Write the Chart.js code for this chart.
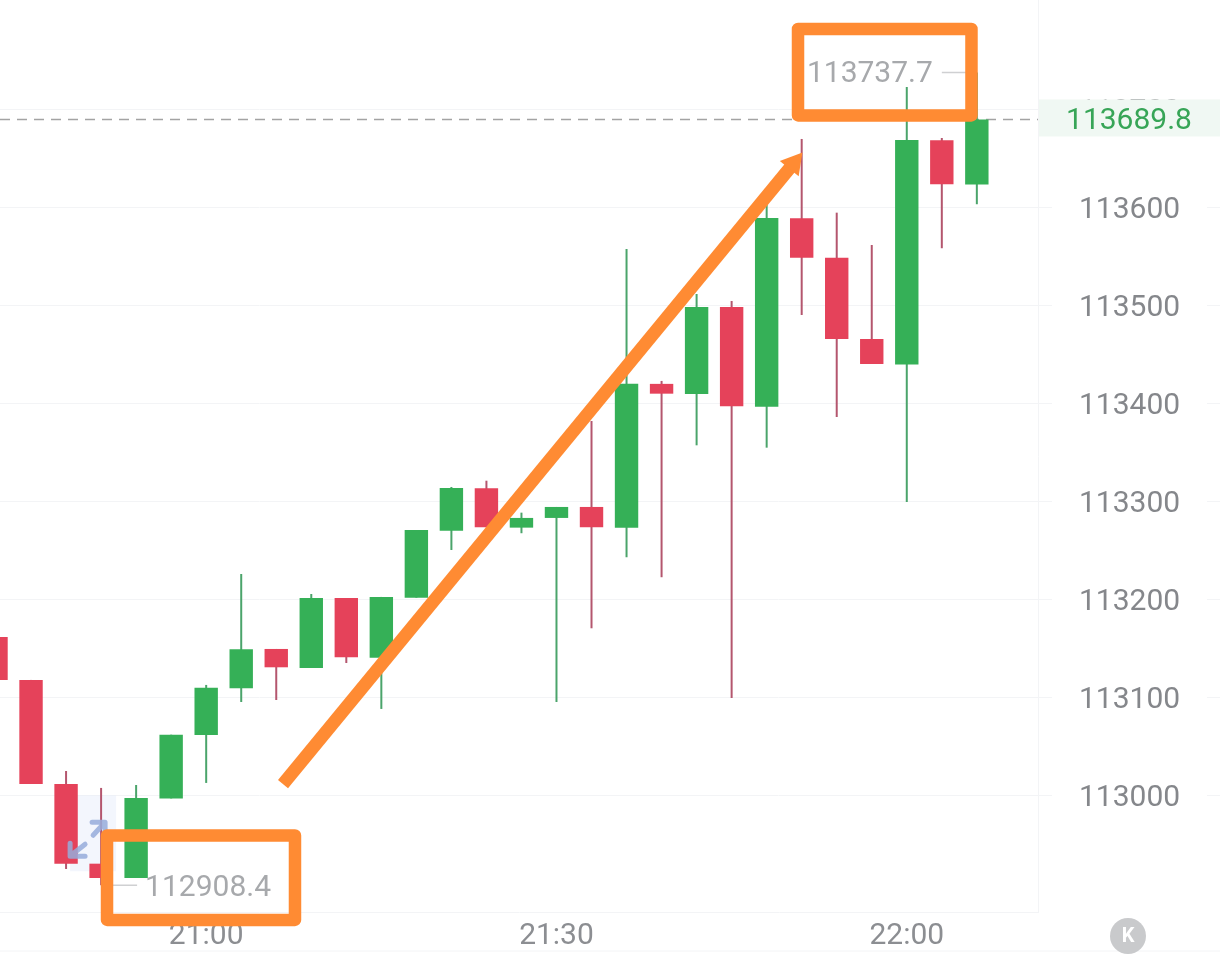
<!DOCTYPE html>
<html>
<head>
<meta charset="utf-8">
<style>
  html, body { margin: 0; padding: 0; background: #fff; }
  #wrap { width: 1220px; height: 956px; }
</style>
<script src="https://cdn.jsdelivr.net/npm/chart.js@4/dist/chart.umd.min.js"></script>
</head>
<body>
<div id="wrap"><canvas id="chart"></canvas></div>
<script>
// 3 minute candles
const categories = ['20:42','20:45','20:48','20:51','20:54','20:57','21:00','21:03','21:06','21:09',
  '21:12','21:15','21:18','21:21','21:24','21:27','21:30','21:33','21:36','21:39',
  '21:42','21:45','21:48','21:51','21:54','21:57','22:00','22:03','22:06'];
const opens = [113161.7,113117.9,113011.7,112930.4,112915.8,112997.0,113061.7,113109.4,113149.5,113130.1,
  113201.5,113140.6,113201.8,113270.2,113313.5,113273.3,113283.2,113294.4,113273.3,113420.0,
  113409.7,113498.5,113396.7,113589.0,113548.8,113465.8,113439.8,113668.6,113623.5];
const highs = [113161.7,113117.9,113025.0,113007.7,113010.7,113062.0,113112.8,113226.0,113149.5,113205.6,
  113201.5,113202.6,113270.9,113314.8,113321.2,113288.6,113294.4,113382.1,113557.7,113423.0,
  113511.7,113504.6,113602.6,113669.9,113594.7,113561.7,113723.0,113670.9,113737.7];
const lows = [113117.9,113011.7,112925.0,112908.4,112915.8,112997.0,113012.8,113095.4,113097.4,113130.1,
  113135.2,113088.3,113201.8,113250.5,113273.7,113267.6,113095.4,113170.6,113243.1,113222.7,
  113357.3,113099.5,113354.9,113490.3,113386.2,113440.3,113299.5,113558.4,113603.3];
const closes = [113117.9,113011.7,112930.4,112915.8,112997.4,113062.0,113110.0,113149.2,113130.8,113201.5,
  113141.0,113202.6,113270.9,113313.8,113273.7,113283.2,113294.4,113273.7,113420.2,113410.0,
  113498.5,113397.1,113589.3,113548.8,113465.8,113440.3,113668.9,113623.7,113689.8];

const priceTicks = [113000,113100,113200,113300,113400,113500,113600,113700];
const timeTicks = [6,16,26];
const lastPrice = 113689.8;
const lowPrice = 112908.4, lowIndex = 3;
const highPrice = 113737.7, highIndex = 28;

// the hand drawn orange marks, in candle index / price
const topBoxX = [22.895,27.847,27.847,22.895,22.895,27.847];
const topBoxY = [113782.1,113782.1,113693.9,113693.9,113782.1,113782.1];
const lowBoxX = [3.169,8.535,8.535,3.169,3.169,8.535];
const lowBoxY = [112959.2,112959.2,112873.0,112873.0,112959.2,112959.2];
const arrowX = [8.193,22.77];
const arrowY = [113011.7,113645.1];

const xMin = 0.114, xMax = 29.746;
const yMin = 112881.1, yMax = 113811.7;

const RED = '#e5425a', GREEN = '#35b057';
const RED_WICK = '#b4566e', GREEN_WICK = '#4ba46b';
const ORANGE = '#ff8b33';
const GRID = '#f3f4f6';
const FONT = 'Roboto';
const TEXT_SIZE = 30;

const isUp = (i) => closes[i] >= opens[i];
const pairs = (xs, ys) => xs.map((x, i) => ({ x: x, y: ys[i] }));

const orangeLine = (label, xs, ys, w) => ({
  type: 'line', label: label, data: pairs(xs, ys), order: 0, clip: false,
  borderColor: ORANGE, borderWidth: w, borderJoinStyle: 'round', borderCapStyle: 'butt',
  pointRadius: 0, tension: 0, fill: false
});

// small things that are not candles: leader lines, price tag, icons
const extras = {
  id: 'extras',
  beforeDatasetsDraw(chart) {
    const { ctx, scales: { x, y }, width } = chart;
    ctx.save();
    ctx.strokeStyle = GRID;
    ctx.lineWidth = 1;
    priceTicks.slice(0, 7).forEach((t) => {
      const py = Math.round(y.getPixelForValue(t)) + 0.5;
      ctx.beginPath();
      ctx.moveTo(width - 13, py);
      ctx.lineTo(width, py);
      ctx.stroke();
    });
    // footer rule under the time labels
    ctx.beginPath();
    ctx.moveTo(0, 951);
    ctx.lineTo(width, 951);
    ctx.stroke();
    // pale square behind the resize icon
    ctx.fillStyle = 'rgba(228,236,250,0.45)';
    ctx.fillRect(x.getPixelForValue(lowIndex) - 31, y.getPixelForValue(lowPrice) - 90, 46, 76);
    ctx.restore();
  },
  afterDatasetDraw(chart, args) {
    if (chart.data.datasets[args.index].label !== 'bodies') return;
    const { ctx, scales: { x, y }, chartArea, width } = chart;
    const ly = y.getPixelForValue(lowPrice), lx = x.getPixelForValue(lowIndex);
    const hy = y.getPixelForValue(highPrice), hx = x.getPixelForValue(highIndex);
    ctx.save();

    // resize icon sitting over the low candles
    ctx.strokeStyle = 'rgba(150,172,218,0.85)';
    ctx.lineWidth = 5;
    ctx.lineCap = 'round';
    ctx.lineJoin = 'round';
    ctx.beginPath();
    ctx.moveTo(lx - 31, ly - 42); ctx.lineTo(lx - 31, ly - 29); ctx.lineTo(lx - 16, ly - 29);
    ctx.moveTo(lx - 30, ly - 30); ctx.lineTo(lx - 16, ly - 41);
    ctx.moveTo(lx - 9, ly - 63); ctx.lineTo(lx + 4, ly - 63); ctx.lineTo(lx + 4, ly - 53);
    ctx.moveTo(lx + 3, ly - 62); ctx.lineTo(lx - 8, ly - 50);
    ctx.stroke();

    // high and low labels
    ctx.font = TEXT_SIZE + 'px ' + FONT;
    ctx.textBaseline = 'middle';
    ctx.strokeStyle = '#cfd0d2';
    ctx.lineWidth = 1.5;
    ctx.lineCap = 'butt';
    ctx.beginPath(); ctx.moveTo(lx, ly); ctx.lineTo(lx + 36, ly); ctx.stroke();
    ctx.fillStyle = '#a7a9ac';
    ctx.textAlign = 'left';
    ctx.fillText(lowPrice.toFixed(1), lx + 44, ly + 3);
    ctx.beginPath(); ctx.moveTo(hx, hy); ctx.lineTo(hx - 35, hy); ctx.stroke();
    ctx.textAlign = 'right';
    ctx.fillText(highPrice.toFixed(1), hx - 44, hy + 2);

    // last price tag on the axis
    const py = y.getPixelForValue(lastPrice);
    ctx.fillStyle = '#f0f8f3';
    ctx.fillRect(chartArea.right + 1, py - 20, width - chartArea.right, 37);
    ctx.fillStyle = '#37a557';
    ctx.textAlign = 'center';
    ctx.fillText(lastPrice.toFixed(1), (chartArea.right + width) / 2, py + 2);

    // round K button
    ctx.fillStyle = '#c9cacc';
    ctx.beginPath();
    ctx.arc((chartArea.right + width) / 2 - 1, chartArea.bottom + 24, 18, 0, Math.PI * 2);
    ctx.fill();
    ctx.fillStyle = '#fff';
    ctx.font = 'bold 20px ' + FONT;
    ctx.fillText('K', (chartArea.right + width) / 2 - 1, chartArea.bottom + 25);
    ctx.restore();
  }
};

new Chart(document.getElementById('chart'), {
  type: 'bar',
  data: {
    datasets: [
      {
        type: 'line', label: 'last', order: 3,
        data: [{ x: xMin, y: lastPrice }, { x: xMax, y: lastPrice }],
        borderColor: '#a3a3a3', borderWidth: 1.5, borderDash: [10, 7], pointRadius: 0
      },
      {
        label: 'wicks', order: 2, barThickness: 2,
        data: categories.map((c, i) => ({ x: i, y: [lows[i], highs[i]] })),
        backgroundColor: categories.map((c, i) => isUp(i) ? GREEN_WICK : RED_WICK)
      },
      {
        label: 'bodies', order: 1, barThickness: 23.4,
        data: categories.map((c, i) => ({ x: i, y: [opens[i], closes[i]] })),
        backgroundColor: categories.map((c, i) => isUp(i) ? GREEN : RED)
      },
      orangeLine('topBox', topBoxX, topBoxY, 12.5),
      orangeLine('lowBox', lowBoxX, lowBoxY, 12.5),
      {
        ...orangeLine('arrow', arrowX, arrowY, 13),
        pointStyle: 'triangle',
        pointRadius: [0, 14],
        pointRotation: [0, 39],
        pointBackgroundColor: ORANGE,
        pointBorderWidth: 0
      }
    ]
  },
  plugins: [extras],
  options: {
    responsive: true,
    maintainAspectRatio: false,
    animation: false,
    layout: { padding: 0, autoPadding: false },
    plugins: { legend: { display: false }, tooltip: { enabled: false } },
    datasets: { bar: { grouped: false, inflateAmount: 0, borderWidth: 0 } },
    scales: {
      x: {
        type: 'linear',
        offset: false,
        min: xMin,
        max: xMax,
        afterBuildTicks: (s) => { s.ticks = timeTicks.map((v) => ({ value: v })); },
        afterFit: (s) => { s.height = 44; s.paddingLeft = 0; s.paddingRight = 0; },
        grid: { display: false },
        border: { color: GRID, width: 1 },
        ticks: {
          autoSkip: false,
          maxRotation: 0,
          padding: -2,
          color: '#8c8e92',
          font: { family: FONT, size: TEXT_SIZE },
          callback: (v) => categories[v]
        }
      },
      y: {
        type: 'linear',
        position: 'right',
        min: yMin,
        max: yMax,
        afterBuildTicks: (s) => { s.ticks = priceTicks.map((v) => ({ value: v })); },
        afterFit: (s) => { s.width = 182; s.paddingTop = 0; s.paddingBottom = 0; },
        grid: { color: GRID, lineWidth: 1, tickLength: 14 },
        border: { color: GRID, width: 1 },
        ticks: {
          padding: 27,
          labelOffset: 3,
          color: '#85878b',
          font: { family: FONT, size: TEXT_SIZE },
          callback: (v) => String(v)
        }
      }
    }
  }
});
</script>
</body>
</html>
